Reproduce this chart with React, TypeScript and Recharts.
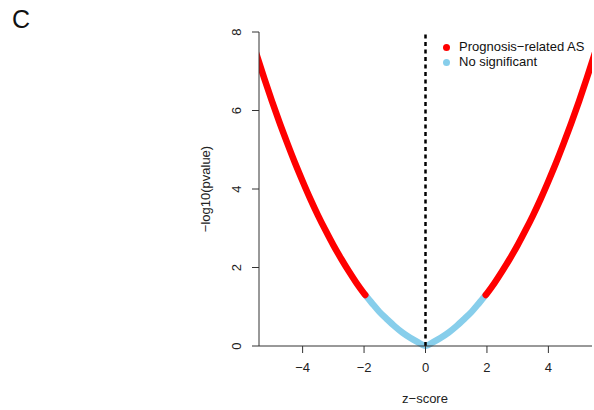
import React from 'react';
import {
  LineChart,
  Line,
  XAxis,
  YAxis,
  ReferenceLine,
} from 'recharts';

// z-scores sampled along the curve and their -log10(p)
const zScores = [
  -5.6, -5.25, -5, -4.75, -4.5, -4.25, -4, -3.75, -3.5, -3.25, -3, -2.75, -2.5, -2.25, -2, -1.96,
  -1.75, -1.5, -1.25, -1, -0.75, -0.5, -0.25, 0, 0.25, 0.5, 0.75, 1, 1.25, 1.5, 1.75,
  1.96, 2, 2.25, 2.5, 2.75, 3, 3.25, 3.5, 3.75, 4, 4.25, 4.5, 4.75, 5, 5.25, 5.6,
];
const negLogP = [
  7.67, 6.82, 6.24, 5.69, 5.17, 4.67, 4.2, 3.75, 3.33, 2.94, 2.57, 2.23, 1.91, 1.61, 1.34, 1.3,
  1.1, 0.87, 0.68, 0.5, 0.34, 0.21, 0.1, 0, 0.1, 0.21, 0.34, 0.5, 0.68, 0.87, 1.1,
  1.3, 1.34, 1.61, 1.91, 2.23, 2.57, 2.94, 3.33, 3.75, 4.2, 4.67, 5.17, 5.69, 6.24, 6.82, 7.67,
];
const cutoff = 1.96;

const xTicks = [-4, -2, 0, 2, 4];
const yTicks = [0, 2, 4, 6, 8];

const legendItems = [
  { label: 'Prognosis\u2212related AS', color: '#ff0000' },
  { label: 'No significant', color: '#87ceeb' },
];

const rows = zScores.map((z, i) => ({
  z,
  sig: Math.abs(z) >= cutoff ? negLogP[i] : null,
  ns: Math.abs(z) <= cutoff ? negLogP[i] : null,
}));

const FONT = 'Liberation Sans, Arial, sans-serif';
const minus = (v: number) => (v < 0 ? `\u2212${Math.abs(v)}` : `${v}`);

function XTick({ x, y, payload }: any) {
  return (
    <text x={x} y={y + 17} textAnchor="middle" fontSize={13} fontFamily={FONT} fill="#222">
      {minus(payload.value)}
    </text>
  );
}

function YTick({ x, y, payload }: any) {
  const cx = x - 14;
  return (
    <text
      x={cx}
      y={y}
      transform={`rotate(-90, ${cx}, ${y})`}
      textAnchor="middle"
      dominantBaseline="central"
      fontSize={13}
      fontFamily={FONT}
      fill="#222"
    >
      {payload.value}
    </text>
  );
}

export default function App() {
  return (
    <div style={{ position: 'absolute', left: 0, top: 0, width: 594, height: 410, background: '#fff', fontFamily: FONT }}>
      <div style={{ position: 'absolute', left: 12, top: 5, fontSize: 25, color: '#111' }}>C</div>
      <LineChart
        width={594}
        height={410}
        data={rows}
        margin={{ top: 32, right: 2, bottom: 0, left: 219 }}
      >
        <XAxis
          dataKey="z"
          type="number"
          domain={[-5.42, 5.42]}
          allowDataOverflow
          ticks={xTicks}
          tick={<XTick />}
          tickSize={7}
          stroke="#333"
          height={64}
          label={{
            content: () => (
              <text x={425} y={403} textAnchor="middle" fontSize={13} fontFamily={FONT} fill="#222">
                z{'\u2212'}score
              </text>
            ),
          }}
        />
        <YAxis
          type="number"
          domain={[0, 8]}
          ticks={yTicks}
          tick={<YTick />}
          tickSize={7}
          stroke="#333"
          width={40}
          label={{
            content: () => (
              <text
                x={205}
                y={189}
                transform="rotate(-90, 205, 189)"
                textAnchor="middle"
                dominantBaseline="central"
                fontSize={13}
                fontFamily={FONT}
                fill="#222"
              >
                {'\u2212'}log10(pvalue)
              </text>
            ),
          }}
        />
        <Line
          dataKey="ns"
          type="monotone"
          stroke="#87ceeb"
          strokeWidth={6.5}
          strokeLinecap="round"
          dot={false}
          activeDot={false}
          isAnimationActive={false}
        />
        <Line
          dataKey="sig"
          type="monotone"
          stroke="#ff0000"
          strokeWidth={6.5}
          strokeLinecap="round"
          dot={false}
          activeDot={false}
          isAnimationActive={false}
        />
        <ReferenceLine x={0} stroke="#000" strokeWidth={2.5} strokeDasharray="4 3.5" />
      </LineChart>
      <div style={{ position: 'absolute', left: 443, top: 40, fontSize: 13, color: '#111', lineHeight: '14.7px' }}>
        {legendItems.map((item) => (
          <div key={item.label} style={{ display: 'flex', alignItems: 'center' }}>
            <span
              style={{ width: 7, height: 7, borderRadius: '50%', background: item.color, marginRight: 9 }}
            />
            <span>{item.label}</span>
          </div>
        ))}
      </div>
    </div>
  );
}
